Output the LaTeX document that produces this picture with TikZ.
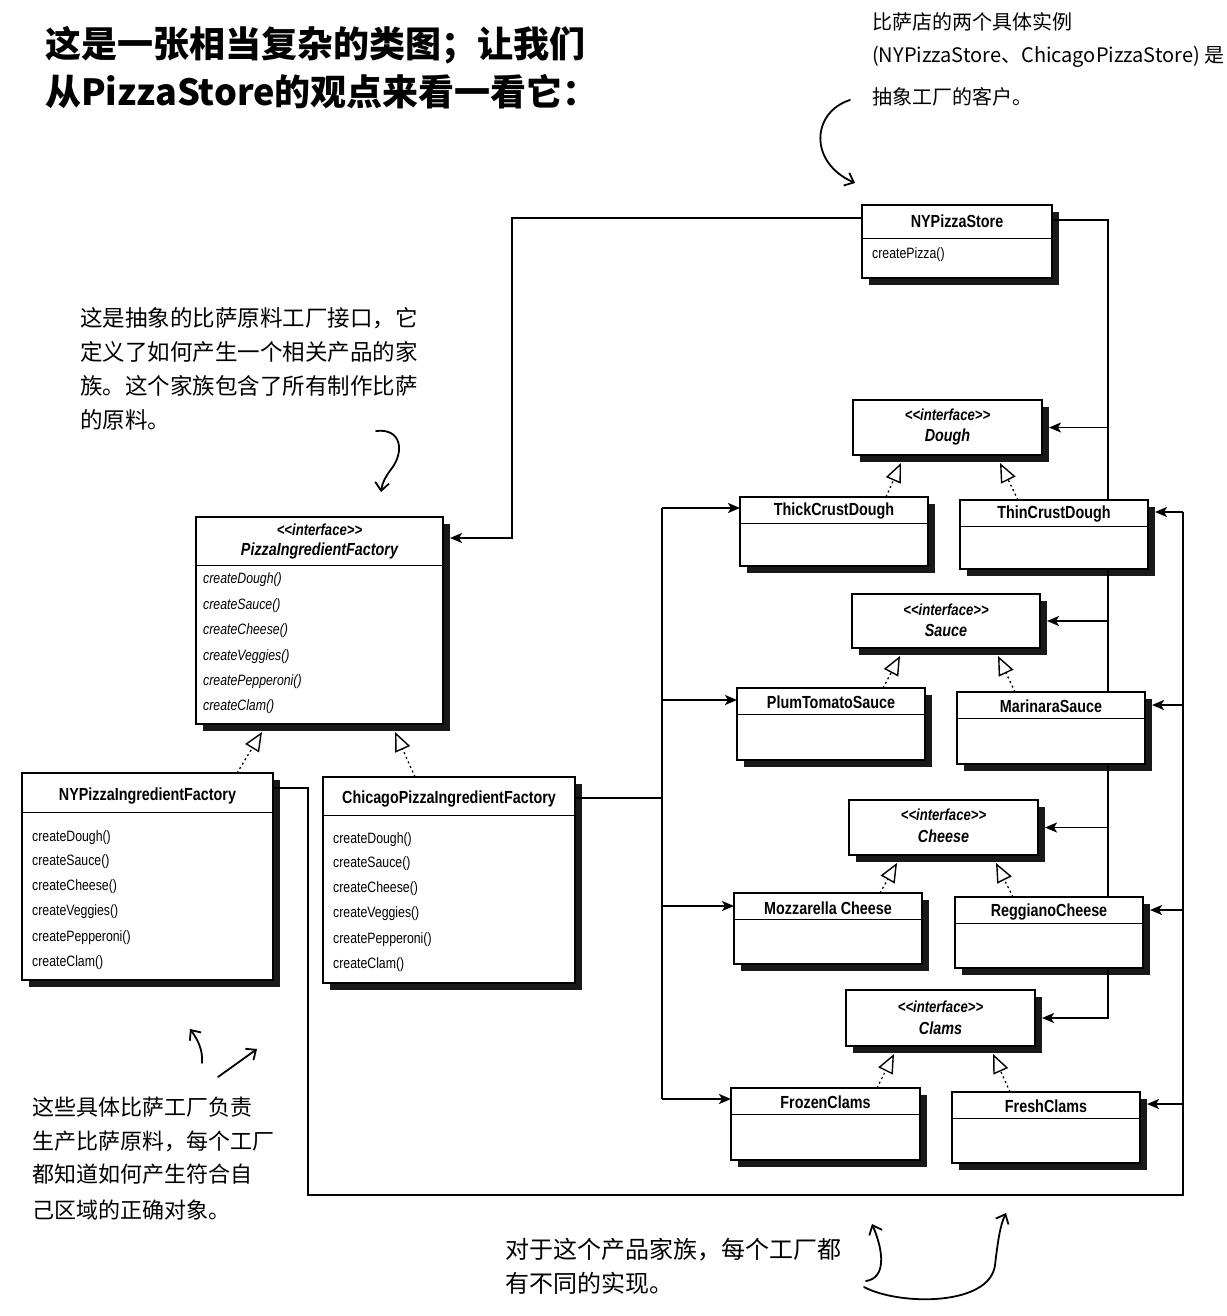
\documentclass[tikz,border=0pt]{standalone}
\usepackage{fontspec}
\setmainfont{Liberation Sans}
\newfontfamily\umlfont[FakeStretch=0.82]{Liberation Sans}
\newfontfamily\cjkfont{Noto Sans CJK SC}
\usetikzlibrary{arrows.meta,shadows,calc}

\tikzset{
  cls/.style={draw=black, line width=1.2pt, fill=white, anchor=north west,
    inner sep=0pt, outer sep=0pt,
    drop shadow={shadow xshift=7pt, shadow yshift=-7pt, fill=black, opacity=0.9}},
  sepline/.style={line width=0.9pt},
  clsname/.style={font=\umlfont\bfseries\fontsize{17.5}{20}\selectfont, inner sep=0pt},
  stereo/.style={font=\umlfont\bfseries\itshape\fontsize{16}{19}\selectfont, inner sep=0pt},
  ifname/.style={font=\umlfont\bfseries\itshape\fontsize{17.5}{20}\selectfont, inner sep=0pt},
  op/.style={font=\umlfont\fontsize{15}{18}\selectfont, anchor=west, inner sep=0pt},
  absop/.style={op, font=\umlfont\itshape\fontsize{15}{18}\selectfont},
  wire/.style={line width=1.9pt},
  assoc/.style={wire, -{Stealth[length=12pt, width=10pt, inset=3pt]}},
  realize/.style={line width=1.3pt, dash pattern=on 2pt off 3pt,
    -{Triangle[length=19pt, width=16pt, fill=white, line width=1.4pt]}},
  note/.style={font=\cjkfont\fontsize{22.5}{30}\selectfont, anchor=west, inner sep=0pt},
  scribble/.style={line width=1.8pt, line cap=round, line join=round,
    -{Straight Barb[length=8pt, width=14pt, line width=1.8pt]}},
  heading/.style={font=\cjkfont\bfseries\fontsize{36}{40}\selectfont, anchor=west, inner sep=0pt},
}

\begin{document}
\begin{tikzpicture}[x=1pt,y=-1pt]
\fill[white] (0,0) rectangle (1226,1316);
\useasboundingbox (0,0) rectangle (1226,1316);

% ---- headings
\node[heading] (head1) at (45,45) {这是一张相当复杂的类图；让我们};
\node[heading] (head2) at (45,92) {从PizzaStore的观点来看一看它：};

% ---- class boxes
\node[cls, minimum width=190pt, minimum height=73pt]  (store)    at (862,205) {};
\node[cls, minimum width=247pt, minimum height=207pt] (pif)      at (196,517) {};
\node[cls, minimum width=251pt, minimum height=207pt] (nyf)      at (22,773) {};
\node[cls, minimum width=252pt, minimum height=206pt] (chf)      at (323,777) {};
\node[cls, minimum width=189pt, minimum height=55pt]  (dough)    at (853,400) {};
\node[cls, minimum width=188pt, minimum height=54pt]  (sauce)    at (852,594) {};
\node[cls, minimum width=189pt, minimum height=55pt]  (cheese)   at (849,800) {};
\node[cls, minimum width=189pt, minimum height=56pt]  (clams)    at (846,990) {};
\node[cls, minimum width=188pt, minimum height=69pt]  (thick)    at (740,497) {};
\node[cls, minimum width=188pt, minimum height=69pt]  (thin)     at (960,500) {};
\node[cls, minimum width=188pt, minimum height=72pt]  (plum)     at (737,688) {};
\node[cls, minimum width=188pt, minimum height=72pt]  (marinara) at (957,692) {};
\node[cls, minimum width=188pt, minimum height=71pt]  (mozz)     at (734,893) {};
\node[cls, minimum width=188pt, minimum height=71pt]  (reggiano) at (955,897) {};
\node[cls, minimum width=189pt, minimum height=72pt]  (frozen)   at (731,1088) {};
\node[cls, minimum width=188pt, minimum height=71pt]  (fresh)    at (952,1092) {};

% ---- compartment separators
\draw[sepline] ([yshift=-33pt]store.north west) -- ([yshift=-33pt]store.north east);
\draw[sepline] ([yshift=-48pt]pif.north west) -- ([yshift=-48pt]pif.north east);
\draw[sepline] ([yshift=-39pt]nyf.north west) -- ([yshift=-39pt]nyf.north east);
\draw[sepline] ([yshift=-38pt]chf.north west) -- ([yshift=-38pt]chf.north east);
\foreach \b in {thick,thin,plum,marinara,mozz,reggiano,frozen,fresh}
  \draw[sepline] ([yshift=-26pt]\b.north west) -- ([yshift=-26pt]\b.north east);

% ---- class texts
\node[clsname] (store-n) at (957,221) {NYPizzaStore};
\node[op] (store-o1) at (872,255) {createPizza()};

\node[stereo] (pif-s) at (319.5,530) {<<interface>>};
\node[ifname] (pif-n) at (319.5,551) {PizzaIngredientFactory};
\node[absop] (pif-o1) at (203,580) {createDough()};
\node[absop] (pif-o2) at (203,606) {createSauce()};
\node[absop] (pif-o3) at (203,631) {createCheese()};
\node[absop] (pif-o4) at (203,657) {createVeggies()};
\node[absop] (pif-o5) at (203,682) {createPepperoni()};
\node[absop] (pif-o6) at (203,707) {createClam()};

\node[clsname] (nyf-n) at (147.5,796) {NYPizzaIngredientFactory};
\node[op] (nyf-o1) at (32,838) {createDough()};
\node[op] (nyf-o2) at (32,862) {createSauce()};
\node[op] (nyf-o3) at (32,887) {createCheese()};
\node[op] (nyf-o4) at (32,912) {createVeggies()};
\node[op] (nyf-o5) at (32,938) {createPepperoni()};
\node[op] (nyf-o6) at (32,963) {createClam()};

\node[clsname] (chf-n) at (449,799) {ChicagoPizzaIngredientFactory};
\node[op] (chf-o1) at (333,840) {createDough()};
\node[op] (chf-o2) at (333,864) {createSauce()};
\node[op] (chf-o3) at (333,889) {createCheese()};
\node[op] (chf-o4) at (333,914) {createVeggies()};
\node[op] (chf-o5) at (333,940) {createPepperoni()};
\node[op] (chf-o6) at (333,965) {createClam()};

\node[stereo] (dough-s) at (947.5,415) {<<interface>>};
\node[ifname] (dough-n) at (947.5,437) {Dough};
\node[stereo] (sauce-s) at (946,610) {<<interface>>};
\node[ifname] (sauce-n) at (946,630) {Sauce};
\node[stereo] (cheese-s) at (943.5,815) {<<interface>>};
\node[ifname] (cheese-n) at (943.5,836) {Cheese};
\node[stereo] (clams-s) at (940.5,1007) {<<interface>>};
\node[ifname] (clams-n) at (940.5,1028) {Clams};

\node[clsname] (thick-n) at (834,511) {ThickCrustDough};
\node[clsname] (thin-n) at (1054,514) {ThinCrustDough};
\node[clsname] (plum-n) at (831,702) {PlumTomatoSauce};
\node[clsname] (marinara-n) at (1051,706) {MarinaraSauce};
\node[clsname] (mozz-n) at (828,908) {Mozzarella Cheese};
\node[clsname] (reggiano-n) at (1049,912) {ReggianoCheese};
\node[clsname] (frozen-n) at (825.5,1102) {FrozenClams};
\node[clsname] (fresh-n) at (1046,1106) {FreshClams};

% ---- connector end points
\coordinate (leftbus)  at (512,0);
\coordinate (ifbus)    at (1108,0);
\coordinate (chbus)    at (662,0);
\coordinate (nybus)    at (308,0);
\coordinate (outerbus) at (1183,0);
\coordinate (loopbase) at (0,1195);
\coordinate (pifin)  at ([xshift=7pt,yshift=-21pt]pif.north east);
\coordinate (chout)  at ([yshift=-21pt]chf.north east);
\coordinate (nyout)  at ([yshift=-15pt]nyf.north east);
\coordinate (thickin)  at ([yshift=-11pt]thick.north west);
\coordinate (plumin)   at ([yshift=-12pt]plum.north west);
\coordinate (mozzin)   at ([yshift=-13pt]mozz.north west);
\coordinate (frozenin) at ([yshift=-11pt]frozen.north west);
\coordinate (thinin)     at ([xshift=7pt,yshift=-12pt]thin.north east);
\coordinate (marinarain) at ([xshift=7pt,yshift=-13pt]marinara.north east);
\coordinate (reggianoin) at ([xshift=7pt,yshift=-13pt]reggiano.north east);
\coordinate (freshin)    at ([xshift=7pt,yshift=-12pt]fresh.north east);

% ---- store uses the abstract factory
\draw[assoc] ([yshift=-13pt]store.north west) -| (leftbus |- pifin) -- (pifin);

% ---- store uses the product interfaces
\draw[wire] ([yshift=-15pt]store.north east) -| (ifbus |- thin.north);
\draw[wire] (ifbus |- thin.south) -- (ifbus |- marinara.north);
\draw[wire] (ifbus |- marinara.south) -- (ifbus |- reggiano.north);
\draw[assoc] (ifbus |- reggiano.south) |- ([xshift=7pt]clams.east);
\draw[assoc] (ifbus |- dough.east) -- ([xshift=7pt]dough.east);
\draw[assoc] (ifbus |- sauce.east) -- ([xshift=7pt]sauce.east);
\draw[assoc] (ifbus |- cheese.east) -- ([xshift=7pt]cheese.east);

% ---- Chicago factory creates its products
\draw[wire] (chout) -- (chbus |- chout);
\draw[wire] (chbus |- thickin) -- (chbus |- frozenin);
\draw[assoc] (chbus |- thickin) -- (thickin);
\draw[assoc] (chbus |- plumin) -- (plumin);
\draw[assoc] (chbus |- mozzin) -- (mozzin);
\draw[assoc] (chbus |- frozenin) -- (frozenin);

% ---- NY factory creates its products
\draw[wire] (nyout) -| (nybus |- loopbase) -| (outerbus |- thinin);
\draw[assoc] (outerbus |- thinin) -- (thinin);
\draw[assoc] (outerbus |- marinarain) -- (marinarain);
\draw[assoc] (outerbus |- reggianoin) -- (reggianoin);
\draw[assoc] (outerbus |- freshin) -- (freshin);

% ---- realizations
\draw[realize] ([xshift=146pt]thick.north west)    -- ([xshift=48pt,yshift=-8pt]dough.south west);
\draw[realize] ([xshift=58pt]thin.north west)      -- ([xshift=147pt,yshift=-8pt]dough.south west);
\draw[realize] ([xshift=146pt]plum.north west)     -- ([xshift=48pt,yshift=-8pt]sauce.south west);
\draw[realize] ([xshift=58pt]marinara.north west)  -- ([xshift=146pt,yshift=-8pt]sauce.south west);
\draw[realize] ([xshift=146pt]mozz.north west)     -- ([xshift=48pt,yshift=-8pt]cheese.south west);
\draw[realize] ([xshift=58pt]reggiano.north west)  -- ([xshift=147pt,yshift=-8pt]cheese.south west);
\draw[realize] ([xshift=146pt]frozen.north west)   -- ([xshift=48pt,yshift=-8pt]clams.south west);
\draw[realize] ([xshift=58pt]fresh.north west)     -- ([xshift=147pt,yshift=-8pt]clams.south west);
\draw[realize] ([xshift=215pt]nyf.north west)      -- ([xshift=66pt,yshift=-8pt]pif.south west);
\draw[realize] ([xshift=92pt]chf.north west)       -- ([xshift=199pt,yshift=-8pt]pif.south west);

% ---- notes
\node[note, font=\cjkfont\fontsize{20}{24}\selectfont] (tr1) at (872,22) {比萨店的两个具体实例};
\node[note, font=\cjkfont\fontsize{20}{24}\selectfont] (tr2) at (872,57) {(NYPizzaStore、ChicagoPizzaStore) 是};
\node[note, font=\cjkfont\fontsize{20}{24}\selectfont] (tr3) at (872,97) {抽象工厂的客户。};

\node[note] (lf1) at (80,318) {这是抽象的比萨原料工厂接口，它};
\node[note] (lf2) at (80,352) {定义了如何产生一个相关产品的家};
\node[note] (lf3) at (80,386) {族。这个家族包含了所有制作比萨};
\node[note] (lf4) at (80,420) {的原料。};

\node[note, font=\cjkfont\fontsize{22}{26}\selectfont] (bl1) at (32,1107) {这些具体比萨工厂负责};
\node[note, font=\cjkfont\fontsize{22}{26}\selectfont] (bl2) at (32,1141) {生产比萨原料，每个工厂};
\node[note, font=\cjkfont\fontsize{22}{26}\selectfont] (bl3) at (32,1174) {都知道如何产生符合自};
\node[note, font=\cjkfont\fontsize{22}{26}\selectfont] (bl4) at (32,1210) {己区域的正确对象。};

\node[note, font=\cjkfont\fontsize{24}{27}\selectfont] (br1) at (505,1250) {对于这个产品家族，每个工厂都};
\node[note, font=\cjkfont\fontsize{24}{27}\selectfont] (br2) at (505,1283) {有不同的实现。};

% ---- hand-drawn pointers
\coordinate (p1a) at (850,100);  \coordinate (p1b) at (855,183);
\draw[scribble] (p1a) .. controls (812,112) and (808,162) .. (p1b);
\coordinate (p2a) at (376,431);  \coordinate (p2b) at (381,492);
\draw[scribble] (p2a) .. controls (402,428) and (404,452) .. (392,468) .. controls (385,477) and (382,484) .. (p2b);
\coordinate (p3a) at (202,1063); \coordinate (p3b) at (190,1029);
\draw[scribble] (p3a) .. controls (203,1050) and (198,1040) .. (p3b);
\coordinate (p4a) at (218,1077); \coordinate (p4b) at (257,1049);
\draw[scribble] (p4a) -- (p4b);
\coordinate (p5a) at (866,1281); \coordinate (p5b) at (872,1224);
\draw[scribble] (p5a) .. controls (886,1278) and (884,1252) .. (p5b);
\coordinate (p6a) at (864,1287); \coordinate (p6b) at (1006,1213);
\draw[scribble] (p6a) .. controls (900,1306) and (990,1306) .. (995,1265) .. controls (998,1240) and (1000,1226) .. (p6b);
\end{tikzpicture}
\end{document}
